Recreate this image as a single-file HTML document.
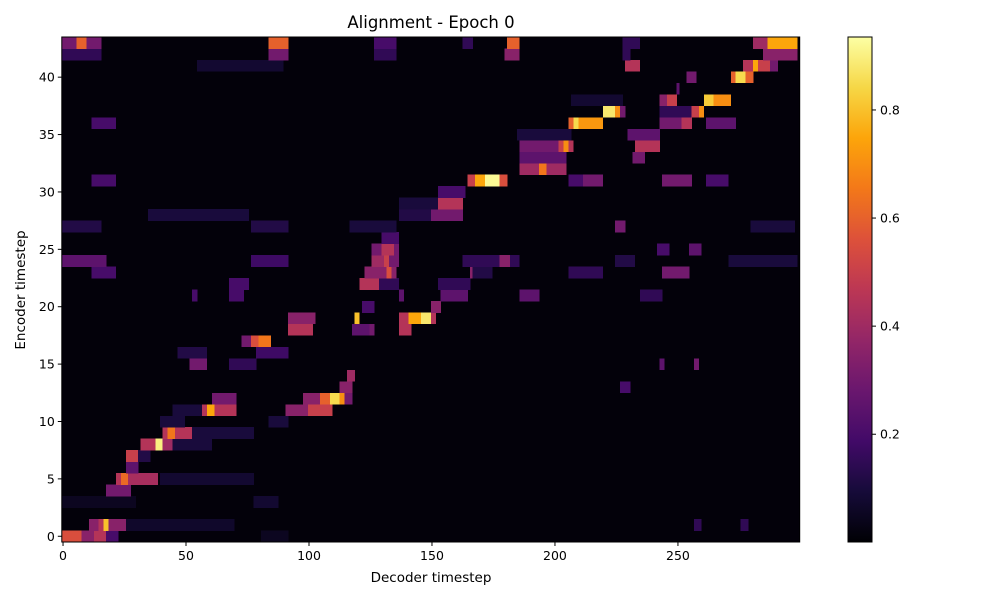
<!DOCTYPE html>
<html><head><meta charset="utf-8"><style>
body{margin:0;background:#fff;}
svg text{font-family:"DejaVu Sans","Liberation Sans",sans-serif;fill:#000;}
</style></head><body>
<svg id="chart" width="1000" height="600" viewBox="0 0 1000 600" xmlns="http://www.w3.org/2000/svg">
<rect width="1000" height="600" fill="#fff"/>
<text x="431" y="28" font-size="16.5" text-anchor="middle">Alignment - Epoch 0</text>
<g id="heat"></g>
<g id="axes"></g>
<text x="431" y="582" font-size="13.5" text-anchor="middle">Decoder timestep</text>
<text transform="translate(25,290) rotate(-90)" font-size="13.5" text-anchor="middle">Encoder timestep</text>
<defs><linearGradient id="cbgrad" x1="0" y1="1" x2="0" y2="0"></linearGradient></defs>
<g id="cbar"></g>
</svg>
<script>
// data: segments of the attention matrix [row, startCol, endCol, value]
const segRow=[0,0,0,0,0,1,1,1,1,1,1,1,3,3,4,5,5,5,5,6,7,7,8,8,8,8,9,9,9,9,10,10,11,11,11,11,11,11,12,12,12,12,12,12,13,13,14,15,15,15,15,16,16,17,17,17,18,18,18,18,19,19,19,19,19,19,20,20,21,21,21,21,21,21,22,22,22,22,23,23,23,23,23,23,23,23,24,24,24,24,24,24,24,24,24,25,25,25,25,25,26,27,27,27,27,27,28,28,28,29,29,30,31,31,31,31,31,31,31,31,31,32,32,32,33,33,34,34,34,34,34,35,35,36,36,36,36,36,36,36,37,37,37,37,37,37,38,38,38,38,38,39,40,40,40,40,41,41,41,41,41,41,42,42,42,42,42,42,43,43,43,43,43,43,43,43,43,43];
const segStart=[0,8,13,18,81,11,15,17,19,26,257,276,0,78,18,22,24,27,40,26,26,31,32,38,41,45,41,43,46,53,40,84,45,57,59,62,91,100,61,98,105,109,113,115,113,227,116,52,68,243,257,47,79,73,77,80,92,118,125,137,92,119,137,141,146,150,122,150,53,68,137,154,186,235,68,121,129,153,12,123,132,134,166,167,206,244,0,77,126,131,133,163,178,225,271,126,130,135,242,255,130,0,77,117,225,280,35,137,150,137,153,153,12,165,168,172,178,206,212,244,262,186,194,197,186,232,186,202,204,206,233,185,230,12,206,208,210,243,252,262,220,225,227,243,256,259,207,243,246,261,265,250,254,272,274,278,55,229,277,281,283,288,0,84,127,180,228,285,0,6,10,84,127,163,181,228,281,287];
const segEnd=[8,13,18,23,92,15,17,19,26,70,260,279,30,88,28,24,27,39,78,31,31,36,38,41,45,61,43,46,53,78,50,92,57,59,62,71,100,110,71,105,109,113,115,118,118,231,119,59,79,245,259,59,92,77,80,85,102,126,127,142,103,121,141,146,150,152,127,154,55,74,139,165,194,244,76,129,137,166,22,132,134,136,167,175,220,255,18,92,131,133,137,186,182,233,299,130,135,137,247,260,137,16,92,136,229,298,76,153,163,153,163,164,22,168,172,178,181,212,220,256,271,194,197,205,205,237,202,204,206,208,243,207,243,22,208,210,220,252,256,274,225,227,229,256,259,261,228,246,250,265,272,251,258,274,278,281,90,235,281,283,288,291,16,92,136,186,231,299,6,10,16,92,136,167,186,235,287,299];
const segValue=[.55,.35,.45,.2,.05,.35,.45,.8,.35,.07,.15,.15,.05,.08,.3,.45,.62,.42,.08,.25,.5,.12,.45,.9,.4,.1,.45,.65,.45,.1,.1,.1,.1,.45,.75,.45,.35,.5,.3,.35,.6,.85,.7,.3,.35,.2,.4,.3,.15,.25,.3,.12,.18,.3,.55,.65,.45,.25,.3,.45,.35,.8,.45,.75,.88,.45,.2,.35,.2,.2,.25,.25,.25,.15,.2,.45,.15,.15,.2,.35,.55,.35,.35,.12,.15,.3,.25,.18,.4,.5,.3,.15,.35,.12,.1,.3,.45,.3,.2,.25,.2,.12,.12,.1,.3,.1,.1,.12,.3,.1,.45,.2,.2,.5,.75,.92,.55,.2,.3,.3,.2,.4,.65,.4,.25,.3,.3,.5,.7,.45,.45,.1,.25,.2,.6,.85,.72,.3,.45,.25,.88,.7,.3,.15,.5,.7,.08,.35,.5,.82,.7,.25,.3,.6,.85,.6,.08,.45,.45,.75,.5,.3,.15,.3,.15,.35,.15,.35,.3,.6,.3,.6,.2,.15,.6,.15,.4,.75];
const xTicks=[0,50,100,150,200,250];
const yTicks=[0,5,10,15,20,25,30,35,40];
const cbTicks=[0.2,0.4,0.6,0.8];
const nRows=44, nCols=300, vMin=0.0006, vMax=0.935;

const NS="http://www.w3.org/2000/svg";
const L=61.8,R=799.7,T=37,B=542;
const cw=(R-L)/nCols, rh=(B-T)/nRows;
const xPos=c=>L+c*cw;            // left edge of column c
const xCenter=c=>L+(c+0.5)*cw;
const yTop=r=>B-(r+1)*rh;
const yCenter=r=>B-(r+0.5)*rh;
const stops=[[0,0,0,4],[.1,22,11,57],[.2,66,10,104],[.3,106,23,110],[.4,147,38,103],[.5,188,55,84],[.6,221,81,58],[.7,243,120,25],[.8,252,165,10],[.9,246,215,70],[1,252,255,164]];
function inferno(t){t=Math.max(0,Math.min(1,t));
 for(let i=1;i<stops.length;i++){if(t<=stops[i][0]){const a=stops[i-1],b=stops[i],f=(t-a[0])/(b[0]-a[0]);
  return `rgb(${Math.round(a[1]+f*(b[1]-a[1]))},${Math.round(a[2]+f*(b[2]-a[2]))},${Math.round(a[3]+f*(b[3]-a[3]))})`;}}
 return "rgb(252,255,164)";}
const cmap=v=>inferno((v-vMin)/(vMax-vMin));
function mk(tag,attrs,parent){const e=document.createElementNS(NS,tag);for(const k in attrs)e.setAttribute(k,attrs[k]);parent.appendChild(e);return e;}

const heat=document.getElementById('heat');
const bg=mk('rect',{x:L,y:T,width:R-L,height:B-T,fill:cmap(0.012)},heat);


for(let i=0;i<segRow.length;i++){
 const r=mk('rect',{x:xPos(segStart[i]),y:yTop(segRow[i]),width:(segEnd[i]-segStart[i])*cw+0.3,height:rh+0.3,fill:cmap(segValue[i]),'shape-rendering':'crispEdges'},heat);
 
 
}
const axes=document.getElementById('axes');
mk('rect',{x:L,y:T,width:R-L,height:B-T,fill:'none',stroke:'#000','stroke-width':1},axes);
xTicks.forEach(v=>{const x=xCenter(v);
 mk('line',{x1:x,y1:B,x2:x,y2:B+4,stroke:'#000'},axes);
 const t=mk('text',{x:x,y:B+18,'font-size':12.5,'text-anchor':'middle'},axes);t.textContent=v;
 
 });
yTicks.forEach(v=>{const y=yCenter(v);
 mk('line',{x1:L,y1:y,x2:L-4,y2:y,stroke:'#000'},axes);
 const t=mk('text',{x:L-7,y:y+4.5,'font-size':12.5,'text-anchor':'end'},axes);t.textContent=v;
 
 });
// colorbar
const grad=document.getElementById('cbgrad');
for(let i=0;i<=20;i++){mk('stop',{offset:i/20,'stop-color':inferno(i/20)},grad);}
const cb=document.getElementById('cbar');
const cbL=848,cbR=872,cbT=37,cbB=542;
mk('rect',{x:cbL,y:cbT,width:cbR-cbL,height:cbB-cbT,fill:'url(#cbgrad)',stroke:'#000','stroke-width':1},cb);
const cbY=v=>cbB-(v-vMin)/(vMax-vMin)*(cbB-cbT);
cbTicks.forEach(v=>{const y=cbY(v);
 mk('line',{x1:cbR,y1:y,x2:cbR+4,y2:y,stroke:'#000'},cb);
 const t=mk('text',{x:cbR+8,y:y+4.5,'font-size':12.5},cb);t.textContent=v.toFixed(1);
 
 });
</script>
</body></html>
